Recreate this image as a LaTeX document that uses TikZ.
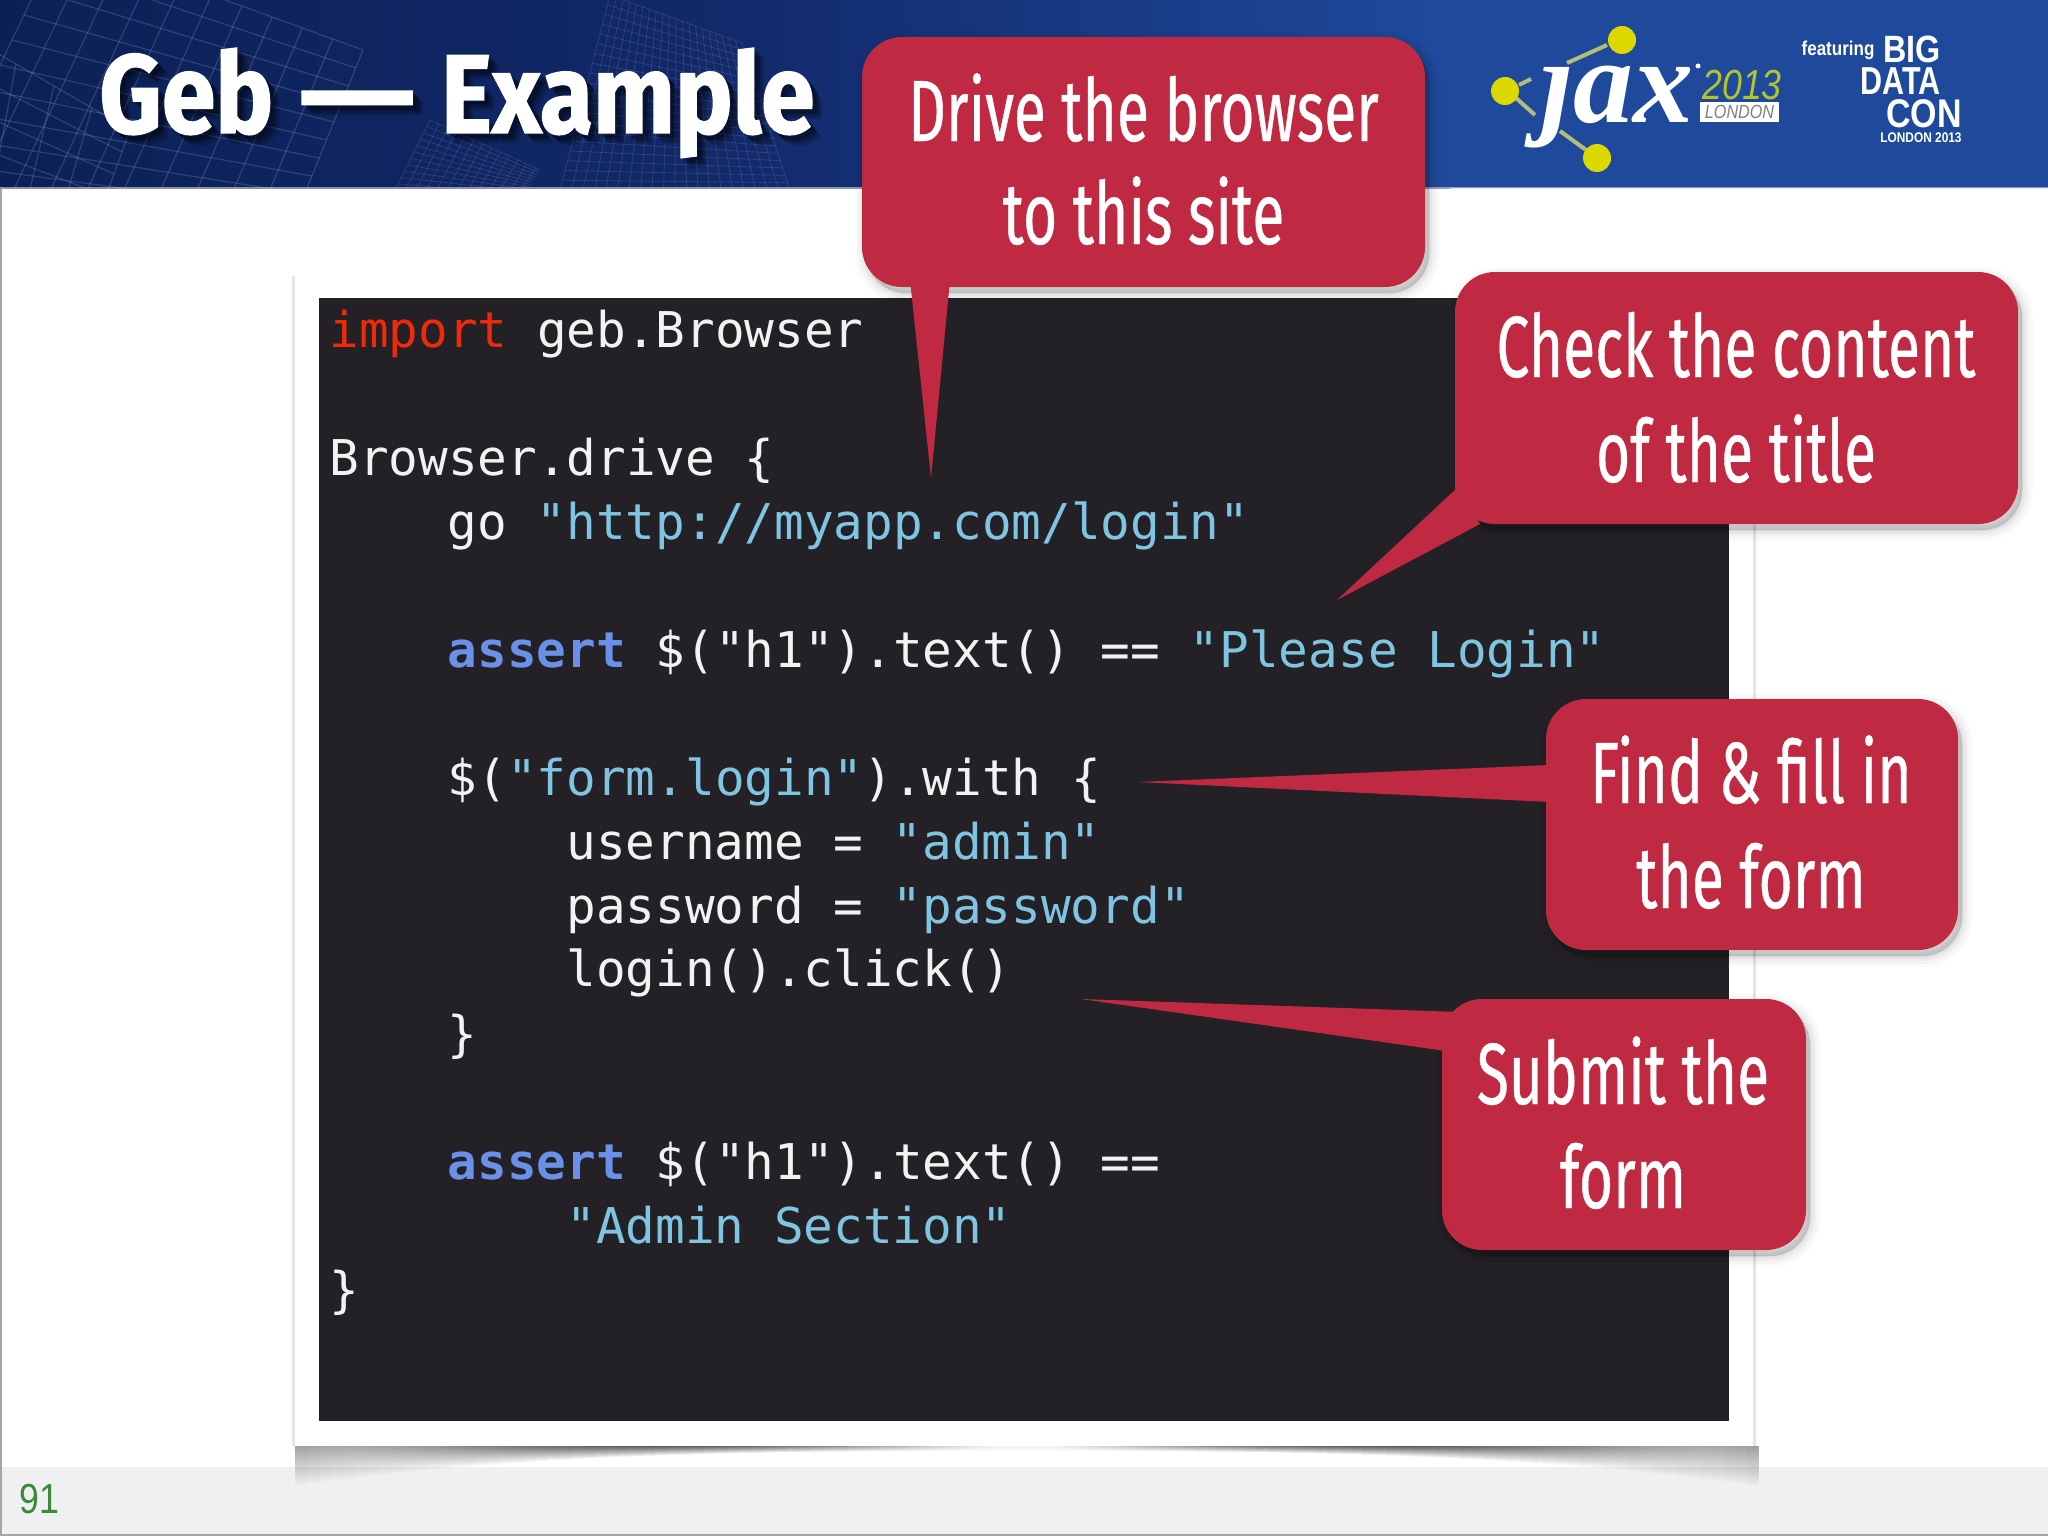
\documentclass[tikz,border=0pt]{standalone}
\usepackage{graphicx}
\usepackage{fontspec}
\usetikzlibrary{calc,fadings}
\setmainfont{Liberation Sans}
\setmonofont{DejaVu Sans Mono}
\newfontfamily\callfont[FakeStretch=0.675,FakeBold=0.4]{Fira Sans}
\newfontfamily\titlefont[FakeStretch=0.865,FakeBold=1.2]{Fira Sans}
\newfontfamily\jaxfont{Liberation Serif}
\newfontfamily\logofont[FakeStretch=0.85]{Liberation Sans}
\definecolor{navy}{HTML}{0B2156}
\definecolor{midnavy}{HTML}{12296A}
\definecolor{hblue}{HTML}{1F4A9C}
\definecolor{callred}{HTML}{BF2A42}
\definecolor{codebg}{HTML}{232125}
\definecolor{kwred}{HTML}{EE2A0A}
\definecolor{strblue}{HTML}{7FC5E2}
\definecolor{kwblue}{HTML}{6A90E8}
\definecolor{codefg}{HTML}{F2F2F2}
\definecolor{footbg}{HTML}{F0EFF1}
\definecolor{pgnum}{HTML}{3B8A38}
\definecolor{logoy}{HTML}{DCD800}
\definecolor{yrgreen}{HTML}{B4C32C}
\definecolor{linkol}{HTML}{B4BE78}
\definecolor{wire}{HTML}{A9A0C8}
\tikzset{
  calltext/.style={anchor=base,inner sep=0pt,text=white,font=\callfont\fontsize{43.5}{50}\selectfont},
  codeline/.style={anchor=base west,inner sep=0pt,text=codefg,font=\ttfamily\fontsize{24.65}{30}\selectfont},
  titletext/.style={anchor=base west,inner sep=0pt,font=\titlefont\bfseries\fontsize{56}{60}\selectfont},
  wireline/.style={draw=wire,draw opacity=.24,line width=.6pt},
  wirefine/.style={draw=wire,draw opacity=.18,line width=.4pt},
  logoline/.style={line width=2pt,draw=linkol},
  logotxt/.style={inner sep=0pt,text=white},
}
\newcommand{\kw}[1]{{\color{kwblue}\bfseries #1}}
\newcommand{\strv}[1]{{\color{strblue}#1}}
\newcommand{\titlestr}{Geb\kern13pt\scalebox{1.5}[1]{—}\kern13pt Example}
% callout: name, x0, y0, x1, y1, tail points
\newcommand{\callout}[6]{%
  \foreach \w/\opa in {22/.02,16/.025,10/.03,5/.035,1/.04}{%
    \begin{scope}[shift={(4,6)}]
    \draw[black,draw opacity=\opa,fill=black,fill opacity=\opa,line width=\w*.5pt,line join=round,rounded corners=20pt] (#2,#3) rectangle (#4,#5);
    \end{scope}}%
  \node[draw=none,fill=callred,rounded corners=20pt,inner sep=0pt,minimum width=(#4-#2)*.5pt,minimum height=(#5-#3)*.5pt] (#1) at ({(#2+#4)/2},{(#3+#5)/2}) {};
  \fill[callred] #6 -- cycle;
}
% wire grid between four corners
\newcommand{\wiregrid}[6]{%
  \foreach \t in {0,#5,...,1.001}{%
    \draw[#6] ($#1!\t!#2$) -- ($#4!\t!#3$);
    \draw[#6] ($#1!\t!#4$) -- ($#2!\t!#3$);
  }}
\begin{document}
\begin{tikzpicture}[x=.5pt,y=-.5pt]
\useasboundingbox (0,0) rectangle (2048,1536);
\fill[white] (0,0) rectangle (2048,1536);
% footer
\fill[footbg] (0,1467) rectangle (2048,1536);
\fill[black!6] (0,1466.5) rectangle (2048,1468);
\fill[gray!70] (0,1534) rectangle (2048,1536);
\fill[gray!70] (0,188) rectangle (1.5,1536);
% header band
\fill[hblue] (1440,0) rectangle (2048,188);
\shade[left color=navy,right color=hblue,middle color=midnavy] (0,0) rectangle (1450,188);
\begin{scope}
\clip (0,0) rectangle (1000,188);
\wiregrid{(60,-60)}{(363,50)}{(290,230)}{(-60,190)}{.1}{wireline}
\wiregrid{(-60,20)}{(130,130)}{(90,240)}{(-80,200)}{.2}{wireline}
\wiregrid{(610,-5)}{(742,43)}{(790,190)}{(560,190)}{.05}{wirefine}
\wiregrid{(430,120)}{(540,170)}{(520,200)}{(390,200)}{.08}{wirefine}
\end{scope}
\fill[black!15,opacity=.6] (0,187) rectangle (2048,188.5);
% picture frame and shadow
\fill[black!10] (292,276) rectangle (1756,1446);
\foreach \xx in {295,307,...,1750}{
  \pgfmathsetmacro{\tt}{abs(\xx+6-1024)/729}
  \pgfmathsetmacro{\hh}{5+35*\tt*\tt*\tt}
  \pgfmathsetmacro{\oo}{max(.06,.62*sin(min(\tt,1)*180)^1.2+.38*\tt^6)}
  \fill[black,opacity=\oo,path fading=south] (\xx,1446) rectangle (\xx+12,1446+\hh);
}
\fill[white] (295,275) rectangle (1753,1446);
\node[fill=codebg,inner sep=0pt,minimum width=705pt,minimum height=561.5pt] (codebox) at (1024,859.5) {};
% code
\node[codeline] (l0) at (329,347) {\textcolor{kwred}{import} geb.Browser};
\node[codeline] (l2) at (329,475) {Browser.drive \{};
\node[codeline] (l3) at (447.5,539) {go \strv{"http://myapp.com/login"}};
\node[codeline] (l5) at (447.5,667) {\kw{assert} \$("h1").text() == \strv{"Please Login"}};
\node[codeline] (l7) at (447.5,795) {\$(\strv{"form.login"}).with \{};
\node[codeline] (l8) at (566,859) {username = \strv{"admin"}};
\node[codeline] (l9) at (566,923) {password = \strv{"password"}};
\node[codeline] (l10) at (566,986) {login().click()};
\node[codeline] (l11) at (447.5,1051) {\}};
\node[codeline] (l13) at (447.5,1179) {\kw{assert} \$("h1").text() ==};
\node[codeline] (l14) at (566,1243) {\strv{"Admin Section"}};
\node[codeline] (l15) at (329,1307) {\}};
% title
\foreach \off/\a in {10/.10,8/.14,6/.18,4/.22}{
  \node[titletext,text=black,text opacity=\a] at (99+\off,133+\off) {\titlestr};
}
\node[titletext,text=white] (title) at (99,133) {\titlestr};
% logo
\node[anchor=base west,inner sep=0pt,text=white,font=\jaxfont\bfseries\itshape\fontsize{60}{60}\selectfont] (jax) at (1540,122) {jax};
\fill[hblue] (1566,46) circle (18);
\draw[logoline] (1567,63) -- (1607,45);
\draw[logoline] (1519,85) -- (1531,79);
\draw[logoline] (1516,98) -- (1535,115);
\draw[logoline] (1560,131) -- (1586,150);
\fill[logoy] (1622,40) circle (14);
\fill[logoy] (1505,91) circle (14);
\fill[logoy] (1597,158) circle (14);
\fill[white] (1698,66) circle (2.5);
\node[anchor=base west,inner sep=0pt,text=yrgreen,font=\logofont\itshape\fontsize{21}{21}\selectfont] (yr) at (1702,99) {2013};
\node[fill=white,inner sep=0pt,minimum width=39.5pt,minimum height=10pt,text=gray,font=\logofont\itshape\fontsize{9.5}{9.5}\selectfont] (lon) at (1739.5,112) {LONDON};
\node[logotxt,font=\logofont\bfseries\fontsize{10}{11}\selectfont] (feat) at (1838,50) {featuring};
\node[logotxt,anchor=base east,font=\logofont\bfseries\fontsize{19}{18}\selectfont] (big) at (1941,63) {BIG};
\node[logotxt,anchor=base east,font=\logofont\bfseries\fontsize{19.5}{18}\selectfont] (data) at (1941,95) {\scalebox{.92}[1]{DATA}};
\node[logotxt,anchor=base east,font=\logofont\bfseries\fontsize{20}{18}\selectfont] (con) at (1962,127) {CON};
\node[logotxt,anchor=base east,font=\logofont\bfseries\fontsize{7}{8}\selectfont] (lond) at (1962,142) {LONDON 2013};
% page number
\node[anchor=base west,inner sep=0pt,text=pgnum,font=\logofont\fontsize{21}{21}\selectfont] (page) at (19,1513) {91};
% callouts
\callout{c1}{862}{37}{1425}{287}{(910,280) -- (950,280) -- (931,478)}
\node[calltext] (c1a) at (1143.5,141) {Drive the browser};
\node[calltext] (c1b) at (1143.5,244) {to this site};
\callout{c2}{1455}{272}{2018}{524}{(1457,488) -- (1480,524) -- (1337,600)}
\node[calltext] (c2a) at (1736,377) {Check the content};
\node[calltext] (c2b) at (1736,482) {of the title};
\callout{c3}{1546}{699}{1958}{950}{(1550,765) -- (1550,802) -- (1138,782)}
\node[calltext] (c3a) at (1751,803) {Find \& fill in};
\node[calltext] (c3b) at (1751,908) {the form};
\callout{c4}{1442}{999}{1806}{1250}{(1460,1012) -- (1460,1053) -- (1081,999)}
\node[calltext] (c4a) at (1623,1104) {Submit the};
\node[calltext] (c4b) at (1623,1208) {form};
\end{tikzpicture}
\end{document}
